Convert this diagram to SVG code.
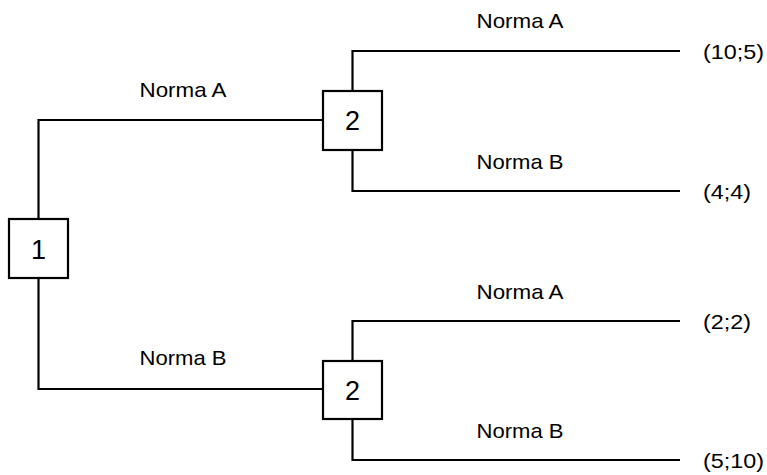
<svg xmlns="http://www.w3.org/2000/svg" width="767" height="475" viewBox="0 0 767 475">
  <style>
    .edge { fill: none; stroke: #000; stroke-width: 2.2; }
    .box { fill: #fff; stroke: #000; stroke-width: 2.2; }
    .lbl { font-family: "Liberation Sans", Arial, sans-serif; font-size: 21px; fill: #000; }
    .num { font-family: "Liberation Sans", Arial, sans-serif; font-size: 27px; fill: #000; text-anchor: middle; }
    .mid { text-anchor: middle; }
  </style>
  <rect width="767" height="475" fill="#fff"/>

  <!-- connectors -->
  <g id="connectors">
    <polyline class="edge" points="323,120 38.5,120 38.5,219"/>
    <polyline class="edge" points="38.5,278 38.5,389 323,389"/>
    <polyline class="edge" points="352.5,91 352.5,51 680,51"/>
    <polyline class="edge" points="352.5,150 352.5,191 680,191"/>
    <polyline class="edge" points="352.5,361 352.5,321 680,321"/>
    <polyline class="edge" points="352.5,419 352.5,460 680,460"/>
  </g>

  <!-- branch labels -->
  <g id="labels">
    <text class="lbl mid" x="183" y="97" textLength="87" lengthAdjust="spacingAndGlyphs">Norma A</text>
    <text class="lbl mid" x="183" y="365" textLength="87" lengthAdjust="spacingAndGlyphs">Norma B</text>
    <text class="lbl mid" x="520" y="28" textLength="87" lengthAdjust="spacingAndGlyphs">Norma A</text>
    <text class="lbl mid" x="520" y="169" textLength="87" lengthAdjust="spacingAndGlyphs">Norma B</text>
    <text class="lbl mid" x="520" y="299" textLength="87" lengthAdjust="spacingAndGlyphs">Norma A</text>
    <text class="lbl mid" x="520" y="438" textLength="87" lengthAdjust="spacingAndGlyphs">Norma B</text>
  </g>

  <!-- payoffs -->
  <g id="payoffs">
    <text class="lbl" x="703" y="58.5" textLength="61" lengthAdjust="spacingAndGlyphs">(10;5)</text>
    <text class="lbl" x="703" y="198.5" textLength="48" lengthAdjust="spacingAndGlyphs">(4;4)</text>
    <text class="lbl" x="703" y="328.5" textLength="48" lengthAdjust="spacingAndGlyphs">(2;2)</text>
    <text class="lbl" x="703" y="467.5" textLength="61" lengthAdjust="spacingAndGlyphs">(5;10)</text>
  </g>

  <!-- decision nodes -->
  <g id="node-1">
    <rect class="box" x="9" y="219" width="59" height="59"/>
    <text class="num" x="38.5" y="258.5">1</text>
  </g>
  <g id="node-2a">
    <rect class="box" x="323" y="91" width="59" height="59"/>
    <text class="num" x="352.5" y="130">2</text>
  </g>
  <g id="node-2b">
    <rect class="box" x="323" y="361" width="59" height="58"/>
    <text class="num" x="352.5" y="399.5">2</text>
  </g>
</svg>
